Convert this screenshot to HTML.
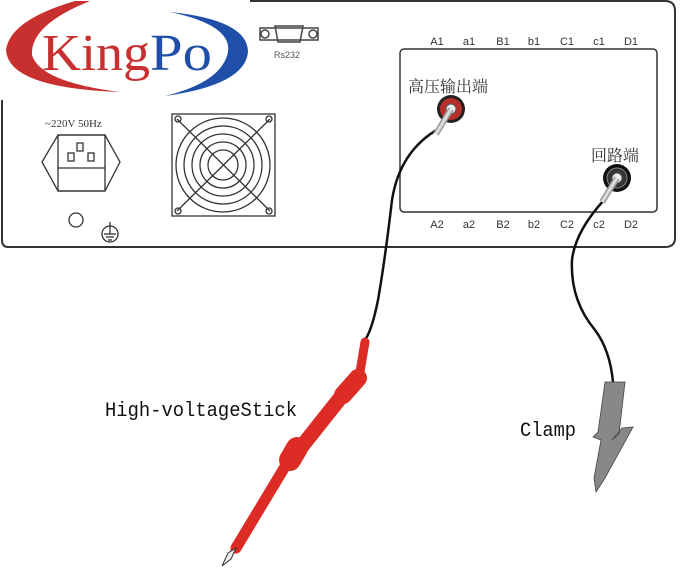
<!DOCTYPE html>
<html><head><meta charset="utf-8"><style>body{margin:0;background:#fff}svg{display:block}</style></head>
<body>
<svg width="680" height="575" viewBox="0 0 680 575" xmlns="http://www.w3.org/2000/svg">
<rect width="680" height="575" fill="#fff"/>
<!-- panel -->
<path d="M250 1 H665 Q675 1 675 11 V238 Q675 247 665 247 H8 Q2 247 2 240 V100" fill="none" stroke="#333" stroke-width="2"/>
<!-- logo -->
<path d="M75 1 Q10 20 6 50 Q8 88 120 92 Q40 82 32 55 Q30 25 90 1 Z" fill="#c8302f"/>
<path d="M165 96 Q245 85 248 52 Q248 20 170 12 Q232 25 228 52 Q222 82 165 96 Z" fill="#1f4fa8"/>
<text x="42" y="70" font-family="Liberation Serif, serif" font-size="52" fill="#c8302f" textLength="108" lengthAdjust="spacingAndGlyphs">King</text>
<text x="150" y="70" font-family="Liberation Serif, serif" font-size="52" fill="#1f4fa8" textLength="62" lengthAdjust="spacingAndGlyphs">Po</text>
<!-- RS232 -->
<g fill="none" stroke="#444" stroke-width="1.5">
<circle cx="265" cy="34" r="4"/><circle cx="313" cy="34" r="4"/>
<path d="M260 28 H318 V40 H260 Z"/><path d="M275 26 H303 L300 42 H278 Z"/>
</g>
<text x="274" y="58" font-family="Liberation Sans, sans-serif" font-size="9" fill="#555">Rs232</text>
<!-- power -->
<text x="45" y="127" font-family="Liberation Serif, serif" font-size="11" fill="#333">~220V 50Hz</text>
<g fill="none" stroke="#333" stroke-width="1.3">
<path d="M42 162 L58 135 H105 L120 162 L105 191 H58 Z"/>
<rect x="58" y="135" width="47" height="56"/>
<line x1="58" y1="168" x2="105" y2="168"/>
<rect x="77" y="143" width="6" height="8"/><rect x="68" y="153" width="6" height="8"/><rect x="88" y="153" width="6" height="8"/>
<circle cx="76" cy="220" r="7"/>
<circle cx="110" cy="234" r="8"/>
<line x1="110" y1="222" x2="110" y2="234"/><line x1="104" y1="234" x2="116" y2="234"/><line x1="106" y1="237" x2="114" y2="237"/><line x1="108" y1="240" x2="112" y2="240"/>
</g>
<!-- fan -->
<g fill="none" stroke="#333" stroke-width="1.3">
<rect x="172" y="114" width="103" height="102"/>
<circle cx="223" cy="165" r="47"/><circle cx="223" cy="165" r="39"/><circle cx="223" cy="165" r="31"/><circle cx="223" cy="165" r="23"/><circle cx="223" cy="165" r="15"/>
<line x1="177" y1="119" x2="270" y2="211"/><line x1="270" y1="119" x2="177" y2="211"/>
<circle cx="178" cy="119" r="3"/><circle cx="269" cy="119" r="3"/><circle cx="178" cy="211" r="3"/><circle cx="269" cy="211" r="3"/>
</g>
<!-- inner box -->
<rect x="400" y="49" width="257" height="163" rx="4" fill="none" stroke="#333" stroke-width="1.5"/>
<g font-family="Liberation Sans, sans-serif" font-size="11" fill="#333" text-anchor="middle">
<text x="437" y="45">A1</text><text x="469" y="45">a1</text><text x="503" y="45">B1</text><text x="534" y="45">b1</text><text x="567" y="45">C1</text><text x="599" y="45">c1</text><text x="631" y="45">D1</text>
<text x="437" y="228">A2</text><text x="469" y="228">a2</text><text x="503" y="228">B2</text><text x="534" y="228">b2</text><text x="567" y="228">C2</text><text x="599" y="228">c2</text><text x="631" y="228">D2</text>
</g>
<text x="408" y="92" font-family="Noto Serif CJK SC, serif" font-size="16" fill="#333">高压输出端</text>
<text x="591" y="161" font-family="Noto Serif CJK SC, serif" font-size="16" fill="#333">回路端</text>
<!-- terminals -->
<circle cx="451" cy="109" r="14" fill="#222"/><circle cx="451" cy="109" r="11" fill="#b8302e"/><circle cx="451" cy="109" r="5" fill="#eee" stroke="#555"/>
<circle cx="617" cy="178" r="14" fill="#111"/><circle cx="617" cy="178" r="10" fill="#333" stroke="#888"/><circle cx="617" cy="178" r="5" fill="#eee" stroke="#555"/>
<!-- red cable -->
<path d="M440 128 Q400 150 392 200 Q385 260 378 300 Q372 330 365 340" fill="none" stroke="#111" stroke-width="2.5"/>
<line x1="451" y1="109" x2="436" y2="134" stroke="#999" stroke-width="6"/>
<line x1="451" y1="109" x2="436" y2="134" stroke="#ddd" stroke-width="3"/>
<!-- stick -->
<g stroke="#dd2b25" stroke-linecap="round" fill="none">
<line x1="365" y1="342" x2="360" y2="372" stroke-width="9"/>
<line x1="358" y1="378" x2="343" y2="395" stroke-width="18"/>
<line x1="345" y1="392" x2="295" y2="455" stroke-width="15"/>
<line x1="297" y1="448" x2="290" y2="460" stroke-width="22"/>
<line x1="292" y1="455" x2="236" y2="548" stroke-width="11"/>
<line x1="260" y1="505" x2="234" y2="550" stroke-width="7"/>
</g>
<path d="M236 548 L228 553 L222 566 L231 559 Z" fill="#eee" stroke="#333" stroke-width="1"/>
<!-- black cable -->
<path d="M604 200 Q575 232 572 260 Q570 300 595 330 Q610 350 613 382" fill="none" stroke="#111" stroke-width="2.5"/>
<line x1="617" y1="178" x2="602" y2="202" stroke="#999" stroke-width="6"/>
<line x1="617" y1="178" x2="602" y2="202" stroke="#ddd" stroke-width="3"/>
<!-- clamp -->
<path d="M605 382 H625 L619 434 L612 440 L622 428 L633 427 L605 478 L596 492 L594 478 L601 440 L593 437 L598 432 Z" fill="#888" stroke="#444" stroke-width="0.8"/>
<!-- labels -->
<text x="105" y="416" font-family="Liberation Mono, monospace" font-size="20" fill="#111" textLength="192" lengthAdjust="spacingAndGlyphs">High-voltageStick</text>
<text x="520" y="436" font-family="Liberation Mono, monospace" font-size="20" fill="#111" textLength="56" lengthAdjust="spacingAndGlyphs">Clamp</text>
</svg>
</body></html>
